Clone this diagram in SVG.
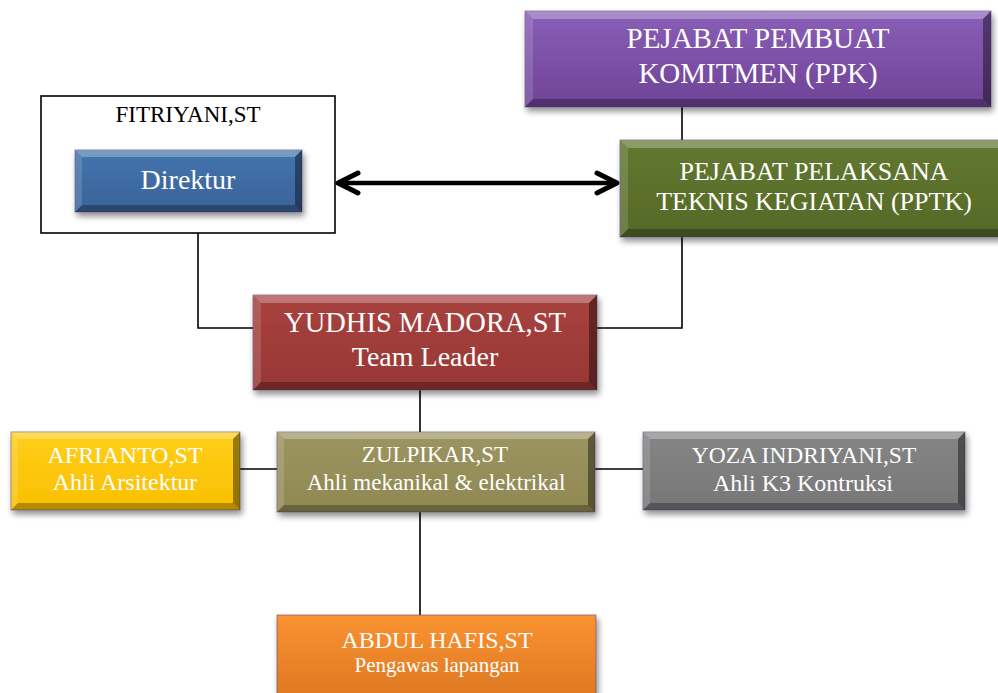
<svg xmlns="http://www.w3.org/2000/svg" width="998" height="693" viewBox="0 0 998 693">
<style>
.t{font-family:"Liberation Serif","Times New Roman",serif;fill:#ffffff;text-anchor:middle}
.tk{font-family:"Liberation Serif","Times New Roman",serif;fill:#000000;text-anchor:middle}
.ln{stroke:#000;stroke-width:1.6;fill:none}
.bx{filter:url(#sh);stroke:#5f4b7a;stroke-width:1;stroke-opacity:.6}
.hl{fill:#ffffff;fill-opacity:.28}
.hl2{fill:#ffffff;fill-opacity:.14}
.dk{fill:#000000;fill-opacity:.28}
.dk2{fill:#000000;fill-opacity:.4}
</style>
<defs>
<filter id="sh" x="-10%" y="-20%" width="125%" height="150%">
<feGaussianBlur in="SourceAlpha" stdDeviation="3"/>
<feOffset dx="2" dy="4" result="b"/>
<feComponentTransfer><feFuncA type="linear" slope="0.45"/></feComponentTransfer>
<feMerge><feMergeNode/><feMergeNode in="SourceGraphic"/></feMerge>
</filter>
<linearGradient id="gP" x1="0" y1="0" x2="0" y2="1"><stop offset="0" stop-color="#8a5fb8"/><stop offset="1" stop-color="#6e4396"/></linearGradient>
<linearGradient id="gG" x1="0" y1="0" x2="0" y2="1"><stop offset="0" stop-color="#62782f"/><stop offset="1" stop-color="#56692a"/></linearGradient>
<linearGradient id="gB" x1="0" y1="0" x2="0" y2="1"><stop offset="0" stop-color="#4474ad"/><stop offset="1" stop-color="#3a6399"/></linearGradient>
<linearGradient id="gR" x1="0" y1="0" x2="0" y2="1"><stop offset="0" stop-color="#a8423f"/><stop offset="1" stop-color="#973735"/></linearGradient>
<linearGradient id="gY" x1="0" y1="0" x2="0" y2="1"><stop offset="0" stop-color="#ffce1a"/><stop offset="1" stop-color="#f9c000"/></linearGradient>
<linearGradient id="gO" x1="0" y1="0" x2="0" y2="1"><stop offset="0" stop-color="#9c9562"/><stop offset="1" stop-color="#8f8852"/></linearGradient>
<linearGradient id="gS" x1="0" y1="0" x2="0" y2="1"><stop offset="0" stop-color="#858585"/><stop offset="1" stop-color="#777777"/></linearGradient>
<linearGradient id="gA" x1="0" y1="0" x2="0" y2="1"><stop offset="0" stop-color="#fb9331"/><stop offset="1" stop-color="#d97420"/></linearGradient>
<marker id="chev" markerUnits="userSpaceOnUse" markerWidth="40" markerHeight="40" viewBox="-30 -15 40 30" refX="0" refY="0" orient="auto-start-reverse">
<path d="M-20,-10 L0,0 L-20,10" fill="none" stroke="#000" stroke-width="5" stroke-linecap="round" stroke-linejoin="round"/>
</marker>
</defs>

<g id="connectors">
<line class="ln" x1="682" y1="107" x2="682" y2="140"/>
<polyline class="ln" points="682,237 682,328 597,328"/>
<polyline class="ln" points="198,233 198,328 253,328"/>
<line class="ln" x1="420" y1="390" x2="420" y2="432"/>
<line class="ln" x1="240" y1="469" x2="277" y2="469"/>
<line class="ln" x1="595" y1="469" x2="643" y2="469"/>
<line class="ln" x1="420" y1="512" x2="420" y2="615"/>
<line x1="338" y1="183" x2="617" y2="183" stroke="#000" stroke-width="4.5" marker-start="url(#chev)" marker-end="url(#chev)"/>
</g>

<g id="ppk">
<rect class="bx" x="525" y="11" width="466" height="96" fill="url(#gP)"/>
<polygon class="hl" points="525,11 991,11 983,19 533,19"/>
<polygon class="hl2" points="525,11 533,19 533,99 525,107"/>
<polygon class="dk" points="525,107 533,99 983,99 991,107"/>
<polygon class="dk2" points="991,11 991,107 983,99 983,19"/>
<text class="t" font-size="29" x="758" y="48">PEJABAT PEMBUAT</text>
<text class="t" font-size="29" x="758" y="83">KOMITMEN (PPK)</text>
</g>

<g id="pptk">
<rect class="bx" x="620" y="140" width="392" height="97" fill="url(#gG)"/>
<polygon class="hl" points="620,140 1012,140 1004,148 628,148"/>
<polygon class="hl2" points="620,140 628,148 628,229 620,237"/>
<polygon class="dk" points="620,237 628,229 1004,229 1012,237"/>
<text class="t" font-size="26" x="814" y="180">PEJABAT PELAKSANA</text>
<text class="t" font-size="26" x="814" y="210">TEKNIS KEGIATAN (PPTK)</text>
</g>

<g id="fitriyani">
<rect x="41" y="96" width="294" height="137" fill="#ffffff" stroke="#000" stroke-width="1.6"/>
<text class="tk" font-size="23" x="188" y="122">FITRIYANI,ST</text>
</g>

<g id="direktur">
<rect class="bx" x="75" y="150" width="227" height="62" fill="url(#gB)" stroke="#000" stroke-opacity="1" stroke-width="1.5"/>
<polygon class="hl" points="75,150 302,150 295,157 82,157"/>
<polygon class="hl2" points="75,150 82,157 82,205 75,212"/>
<polygon class="dk" points="75,212 82,205 295,205 302,212"/>
<polygon class="dk2" points="302,150 302,212 295,205 295,157"/>
<text class="t" font-size="28" x="188" y="189">Direktur</text>
</g>

<g id="team-leader">
<rect class="bx" x="253" y="295" width="344" height="95" fill="url(#gR)"/>
<polygon class="hl" points="253,295 597,295 589,303 261,303"/>
<polygon class="hl2" points="253,295 261,303 261,382 253,390"/>
<polygon class="dk" points="253,390 261,382 589,382 597,390"/>
<polygon class="dk2" points="597,295 597,390 589,382 589,303"/>
<text class="t" font-size="28.5" x="425" y="332">YUDHIS MADORA,ST</text>
<text class="t" font-size="28" x="425" y="366">Team Leader</text>
</g>

<g id="afrianto">
<rect class="bx" x="11" y="432" width="229" height="78" fill="url(#gY)"/>
<polygon class="hl" points="11,432 240,432 233,439 18,439"/>
<polygon class="hl2" points="11,432 18,439 18,503 11,510"/>
<polygon class="dk" points="11,510 18,503 233,503 240,510"/>
<polygon class="dk2" points="240,432 240,510 233,503 233,439"/>
<text class="t" font-size="24" x="125" y="463">AFRIANTO,ST</text>
<text class="t" font-size="24" x="125" y="490">Ahli Arsitektur</text>
</g>

<g id="zulpikar">
<rect class="bx" x="277" y="432" width="318" height="80" fill="url(#gO)"/>
<polygon class="hl" points="277,432 595,432 588,439 284,439"/>
<polygon class="hl2" points="277,432 284,439 284,505 277,512"/>
<polygon class="dk" points="277,512 284,505 588,505 595,512"/>
<polygon class="dk2" points="595,432 595,512 588,505 588,439"/>
<text class="t" font-size="23" x="435" y="462">ZULPIKAR,ST</text>
<text class="t" font-size="23" x="436" y="490">Ahli mekanikal &amp; elektrikal</text>
</g>

<g id="yoza">
<rect class="bx" x="643" y="432" width="322" height="78" fill="url(#gS)"/>
<polygon class="hl" points="643,432 965,432 958,439 650,439"/>
<polygon class="hl2" points="643,432 650,439 650,503 643,510"/>
<polygon class="dk" points="643,510 650,503 958,503 965,510"/>
<polygon class="dk2" points="965,432 965,510 958,503 958,439"/>
<text class="t" font-size="23.5" x="804" y="463">YOZA INDRIYANI,ST</text>
<text class="t" font-size="24" x="803" y="491">Ahli K3 Kontruksi</text>
</g>

<g id="abdul">
<rect class="bx" x="277" y="615" width="319" height="95" fill="url(#gA)"/>
<text class="t" font-size="24" x="437" y="648">ABDUL HAFIS,ST</text>
<text class="t" font-size="21" x="437" y="672">Pengawas lapangan</text>
</g>
</svg>
